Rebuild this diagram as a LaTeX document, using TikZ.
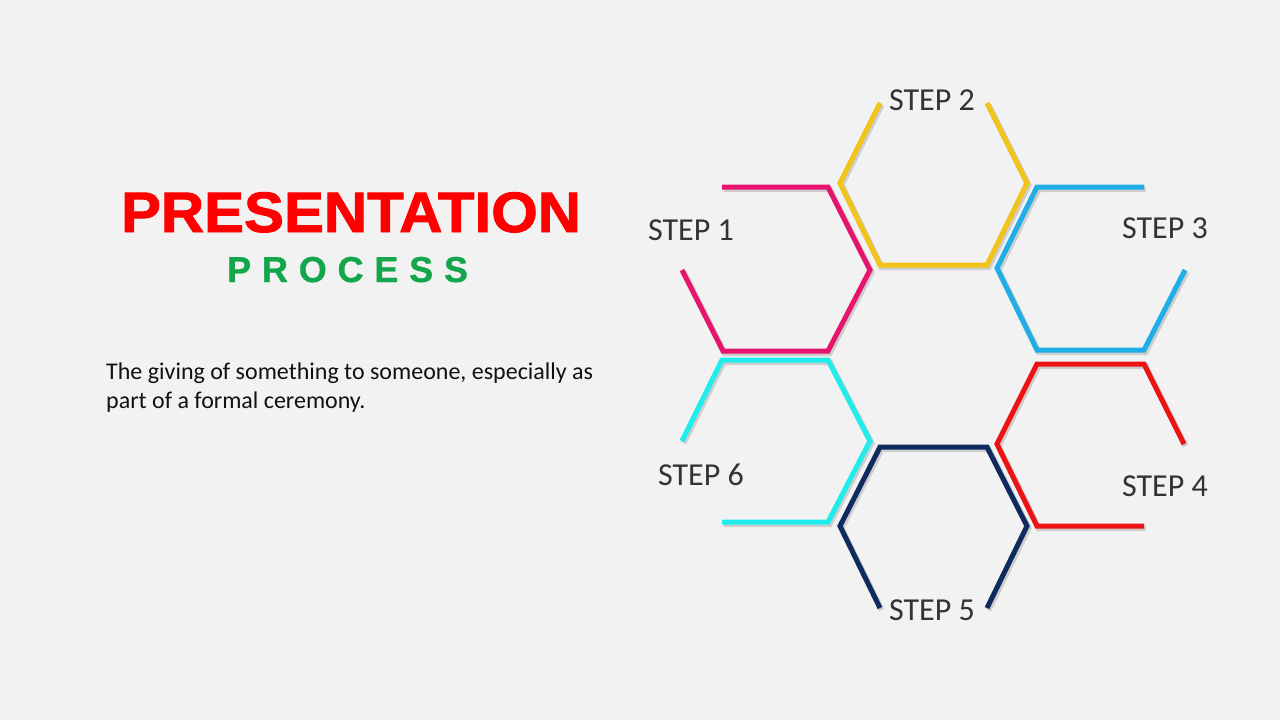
\documentclass[tikz,border=0pt]{standalone}
\usepackage{fontspec}
\setmainfont{Carlito}
\newfontfamily\titlefont[FakeBold=1.6]{Liberation Sans Bold}
\newfontfamily\subfont[FakeBold=0.8, LetterSpace=30]{Liberation Sans Bold}
\definecolor{bg}{HTML}{F2F2F2}
\definecolor{cpink}{HTML}{E8136F}
\definecolor{cyellow}{HTML}{F2C318}
\definecolor{cblue}{HTML}{1DAFE5}
\definecolor{cred}{HTML}{EE1313}
\definecolor{cnavy}{HTML}{0E2A5E}
\definecolor{ccyan}{HTML}{1FEDEC}
\definecolor{ctitle}{HTML}{FF0000}
\definecolor{cgreen}{HTML}{13A64B}
\definecolor{ctext}{HTML}{111111}
\definecolor{clabel}{HTML}{333333}
\tikzset{
  hexline/.style={line width=5pt, line join=miter, line cap=butt},
  hexshadow/.style={line width=6pt, line join=miter, draw=black, opacity=0.15},
  steplabel/.style={font=\fontsize{32}{36}\selectfont, text=clabel, inner sep=0pt},
  titletext/.style={anchor=base, inner sep=0pt, xscale=1.05, font=\titlefont\fontsize{57}{60}\selectfont},
  subtext/.style={anchor=base west, inner sep=0pt, font=\subfont\fontsize{36}{40}\selectfont},
}
\begin{document}
\begin{tikzpicture}[x=1pt,y=-1pt]
\fill[bg] (0,0) rectangle (1280,720);
\useasboundingbox (0,0) rectangle (1280,720);

% title
\node (title) [titletext, text=ctitle] at (351,232) {PRESENTATION};
\node (sub) [subtext, text=cgreen] at (227,282) {PROCESS};

% body text
\node (body) [anchor=base west, inner sep=0pt, align=left, text=ctext, font=\fontsize{24}{29}\selectfont] at (106,408) {The giving of something to someone, especially as\\part of a formal ceremony.};

% hexagon paths
\newcommand{\hexA}{(722,187) -- (828,187) -- (870,270) -- (828,351) -- (723,351) -- (682,270)}
\newcommand{\hexB}{(880,103) -- (840,183) -- (880,265) -- (987,265) -- (1027,183) -- (987,103)}
\newcommand{\hexC}{(1144,187) -- (1037,187) -- (997,268) -- (1037,350) -- (1144,350) -- (1185,270)}
\newcommand{\hexD}{(1184,444) -- (1144,364) -- (1037,364) -- (997,444) -- (1037,526) -- (1144,526)}
\newcommand{\hexE}{(880,608) -- (840,526) -- (880,447) -- (987,447) -- (1027,526) -- (987,608)}
\newcommand{\hexF}{(682,441) -- (722,360) -- (828,360) -- (870,441) -- (828,522) -- (722,522)}

\begin{scope}[shift={(1.5,2)}]
\draw[hexshadow] \hexA; \draw[hexshadow] \hexB; \draw[hexshadow] \hexC;
\draw[hexshadow] \hexD; \draw[hexshadow] \hexE; \draw[hexshadow] \hexF;
\end{scope}
\draw[hexline, cpink] \hexA;
\draw[hexline, cyellow] \hexB;
\draw[hexline, cblue] \hexC;
\draw[hexline, cred] \hexD;
\draw[hexline, cnavy] \hexE;
\draw[hexline, ccyan] \hexF;

% labels
\node (s1) [steplabel] at (691,230) {STEP 1};
\node (s2) [steplabel] at (932,100) {STEP 2};
\node (s3) [steplabel] at (1165,228) {STEP 3};
\node (s4) [steplabel] at (1165,486) {STEP 4};
\node (s5) [steplabel] at (932,610) {STEP 5};
\node (s6) [steplabel] at (701,475) {STEP 6};
\end{tikzpicture}
\end{document}
